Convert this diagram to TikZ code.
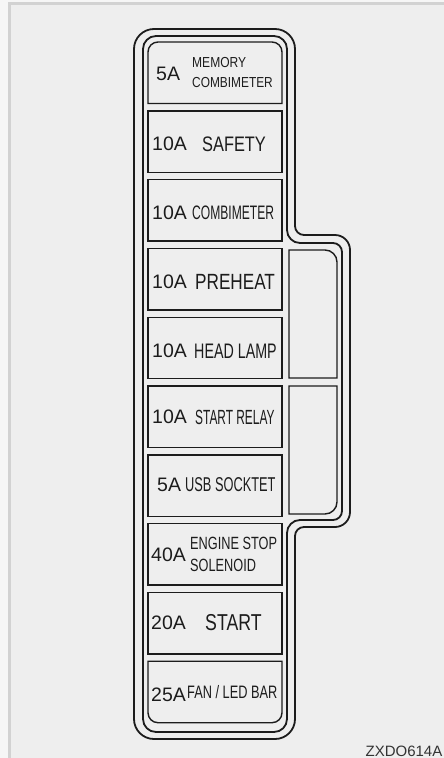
\documentclass[tikz,border=0pt]{standalone}
\usepackage{fontspec}
\setmainfont{Liberation Sans}
\usepackage{graphicx}
\usepackage{tikz}
\definecolor{pageout}{HTML}{F6F6F6}
\definecolor{panelgrey}{HTML}{EEEEEE}
\definecolor{rimgrey}{HTML}{D2D2D2}
\definecolor{boxink}{HTML}{1C1C1C}
\definecolor{codegrey}{HTML}{333333}
\newcommand{\squeeze}[2]{\scalebox{#1}[1]{#2}}

\begin{document}
\begin{tikzpicture}[x=1pt,y=-1pt, every node/.style={inner sep=0pt,text=boxink},
  casing/.style={draw=boxink,line width=1.8pt},
  fusebox/.style={draw=boxink,line width=1.4pt},
  amp/.style={anchor=west,font=\fontsize{19.5}{20}\selectfont},
  desc/.style={anchor=west,font=\fontsize{#1}{#1}\selectfont}]
\useasboundingbox (0,0) rectangle (444,758);
\fill[pageout] (0,0) rectangle (444,758);
\fill[panelgrey] (8,2) rectangle (444,758);
\draw[rimgrey,line width=3pt] (9.5,758) -- (9.5,3.5) -- (444,3.5);
% casing, two outlines
\draw[casing] (134,380) [rounded corners=20] -- (134,29) -- (295,29)
  [rounded corners=9] -- (295,235) [rounded corners=15] -- (350,235) -- (350,527)
  [rounded corners=9] -- (295,527) [rounded corners=20] -- (295,739) -- (134,739) -- cycle;
\draw[casing] (143,380) [rounded corners=13] -- (143,36) -- (287,36)
  [rounded corners=13] -- (287,243) [rounded corners=9] -- (342,243) -- (342,520)
  [rounded corners=13] -- (287,520) -- (287,732) -- (143,732) -- cycle;
% fuses
\foreach \i in {1,...,8} {
  \pgfmathsetmacro{\ftop}{42+68.8*\i}
  \draw[fusebox] (148,\ftop) rectangle (282,\ftop+61.5);
}
\draw[fusebox] (148,103.5) [rounded corners=10] -- (148,42) -- (282,42) [sharp corners] -- (282,103.5) -- cycle;
\draw[fusebox] (148,661.2) [rounded corners=10] -- (148,722.7) -- (282,722.7) [sharp corners] -- (282,661.2) -- cycle;
% relays
\draw[fusebox] (289,378) -- (289,250) [rounded corners=12] -- (337,250) [sharp corners] -- (337,378) -- cycle;
\draw[fusebox] (289,386) -- (337,386) [rounded corners=12] -- (337,514) [sharp corners] -- (289,514) -- cycle;
% labels
\node[amp] (amp1) at (156,74) {5A};
\node[desc=14.5] (lab1a) at (192,63) {\squeeze{0.83}{MEMORY}};
\node[desc=14.5] (lab1b) at (192,83) {\squeeze{0.82}{COMBIMETER}};
\node[amp] (amp2) at (152,144) {10A};
\node[desc=21] (lab2) at (202,144) {\squeeze{0.78}{SAFETY}};
\node[amp] (amp3) at (152,213) {10A};
\node[desc=19.5] (lab3) at (192,213) {\squeeze{0.62}{COMBIMETER}};
\node[amp] (amp4) at (152,282) {10A};
\node[desc=22] (lab4) at (195,282) {\squeeze{0.78}{PREHEAT}};
\node[amp] (amp5) at (152,351) {10A};
\node[desc=21] (lab5) at (194,351) {\squeeze{0.68}{HEAD LAMP}};
\node[amp] (amp6) at (152,417) {10A};
\node[desc=20.5] (lab6) at (195,417) {\squeeze{0.58}{START RELAY}};
\node[amp] (amp7) at (157,485) {5A};
\node[desc=20] (lab7) at (185,485) {\squeeze{0.64}{USB SOCKTET}};
\node[amp] (amp8) at (151,555) {40A};
\node[desc=17.7] (lab8a) at (190,543) {\squeeze{0.72}{ENGINE STOP}};
\node[desc=17.7] (lab8b) at (190,565) {\squeeze{0.72}{SOLENOID}};
\node[amp] (amp9) at (151,623) {20A};
\node[desc=23] (lab9) at (205,623) {\squeeze{0.77}{START}};
\node[amp] (amp10) at (151,695) {25A};
\node[desc=18] (lab10) at (187,692) {\squeeze{0.71}{FAN / LED BAR}};
\node[anchor=east,text=codegrey,font=\fontsize{15}{16}\selectfont] (code) at (442.5,751) {ZXDO614A};
\end{tikzpicture}
\end{document}
